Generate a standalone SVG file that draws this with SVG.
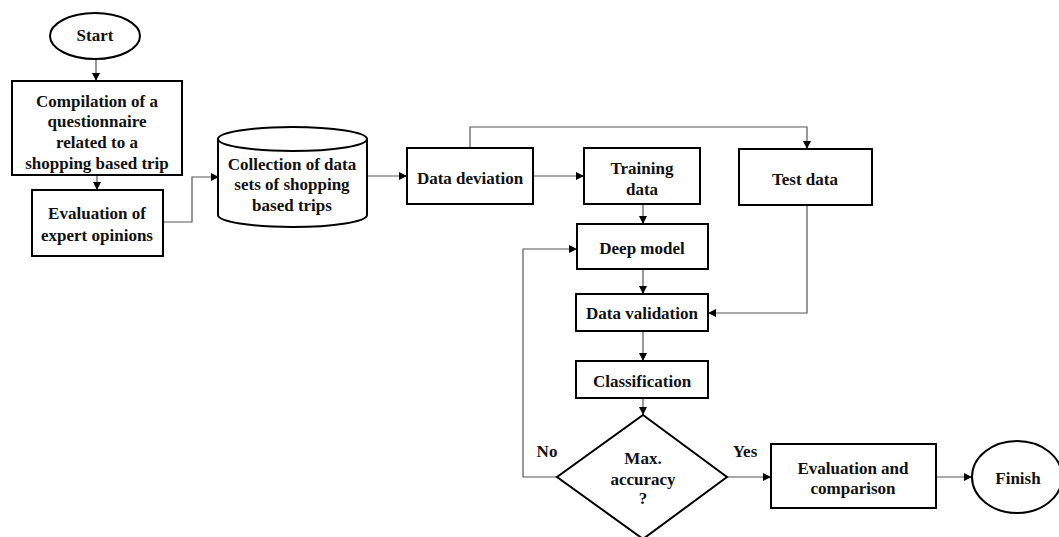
<svg xmlns="http://www.w3.org/2000/svg" width="1059" height="537" viewBox="0 0 1059 537">
<defs>
<marker id="ah" viewBox="0 0 10 10" refX="10" refY="5" markerWidth="8" markerHeight="8" markerUnits="userSpaceOnUse" orient="auto">
<path d="M0,0 L10,5 L0,10 z" fill="#000"/>
</marker>
<style>
.box{fill:#fff;stroke:#000;stroke-width:2}
.t{font-family:"Liberation Serif","Times New Roman",serif;font-weight:bold;font-size:17px;fill:#111;text-anchor:middle;dominant-baseline:central}
.c{fill:none;stroke:#555;stroke-width:1.2;marker-end:url(#ah)}
.cn{fill:none;stroke:#555;stroke-width:1.2}
</style>
</defs>
<rect width="1059" height="537" fill="#fff"/>
<g id="connectors">
<path class="c" d="M96,59 V81"/>
<path class="c" d="M97,175 V190"/>
<path class="c" d="M163,222 H192 V177 H219"/>
<path class="c" d="M367,176 H407"/>
<path class="c" d="M533,176 H584"/>
<path class="c" d="M470,148 V127 H807 V149"/>
<path class="c" d="M643,204 V224"/>
<path class="c" d="M643,269 V294"/>
<path class="c" d="M807,205 V313 H708"/>
<path class="c" d="M643,331 V361"/>
<path class="c" d="M643,398 V415"/>
<path class="c" d="M557,477 H523 V249 H577"/>
<path class="c" d="M727,477 H771"/>
<path class="c" d="M936,477 H972"/>
</g>
<g id="start">
<ellipse class="box" cx="95" cy="36" rx="45" ry="23"/>
<text class="t" x="95" y="35">Start</text>
</g>
<g id="compilation">
<rect class="box" x="12" y="81" width="170" height="94"/>
<text class="t" x="97" y="101">Compilation of a</text>
<text class="t" x="97" y="121">questionnaire</text>
<text class="t" x="97" y="142">related to a</text>
<text class="t" x="97" y="163">shopping based trip</text>
</g>
<g id="evaluation">
<rect class="box" x="32" y="190" width="131" height="66"/>
<text class="t" x="97" y="213">Evaluation of</text>
<text class="t" x="97" y="235">expert opinions</text>
</g>
<g id="collection">
<path class="box" d="M218,139 V215 A74.5,12 0 0 0 367,215 V139"/>
<ellipse class="box" cx="292.5" cy="139" rx="74.5" ry="12"/>
<text class="t" x="292" y="164">Collection of data</text>
<text class="t" x="292" y="184">sets of shopping</text>
<text class="t" x="292" y="205">based trips</text>
</g>
<g id="deviation">
<rect class="box" x="407" y="148" width="126" height="56"/>
<text class="t" x="470" y="178">Data deviation</text>
</g>
<g id="training">
<rect class="box" x="584" y="148" width="116" height="56"/>
<text class="t" x="642" y="168">Training</text>
<text class="t" x="642" y="189">data</text>
</g>
<g id="test">
<rect class="box" x="739" y="149" width="133" height="56"/>
<text class="t" x="805" y="179">Test data</text>
</g>
<g id="deep">
<rect class="box" x="577" y="224" width="131" height="45"/>
<text class="t" x="642" y="248">Deep model</text>
</g>
<g id="validation">
<rect class="box" x="576" y="294" width="132" height="37"/>
<text class="t" x="642" y="313">Data validation</text>
</g>
<g id="classification">
<rect class="box" x="576" y="361" width="132" height="37"/>
<text class="t" x="642" y="381">Classification</text>
</g>
<g id="decision">
<polygon class="box" points="643,415 727,477 643,539 557,477"/>
<text class="t" x="643" y="458">Max.</text>
<text class="t" x="643" y="479">accuracy</text>
<text class="t" x="643" y="498">?</text>
</g>
<g id="labels">
<text class="t" x="547" y="451">No</text>
<text class="t" x="745" y="451">Yes</text>
</g>
<g id="comparison">
<rect class="box" x="771" y="444" width="165" height="64"/>
<text class="t" x="853" y="468">Evaluation and</text>
<text class="t" x="853" y="488">comparison</text>
</g>
<g id="finish">
<ellipse class="box" cx="1017" cy="477" rx="45" ry="36"/>
<text class="t" x="1018" y="478">Finish</text>
</g>
</svg>
